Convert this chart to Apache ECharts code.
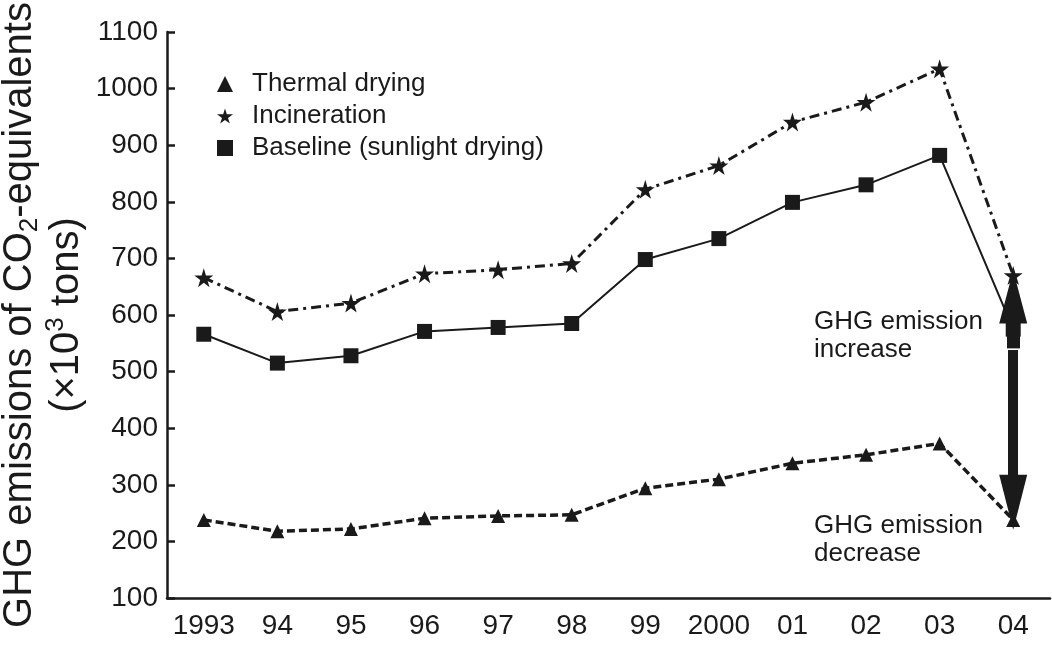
<!DOCTYPE html>
<html>
<head>
    <meta charset='utf-8'>
    <script src="https://cdn.jsdelivr.net/npm/echarts@6/dist/echarts.min.js"></script>
</head>
<body>
<style>
    html, body, #main {
        width: 100%;
        height: 100%;
        margin: 0;
        padding: 0;
        background: #fff;
    }
</style>
<div id="main"></div>
<script>

    var years = ['1993', '94', '95', '96', '97', '98', '99', '2000', '01', '02', '03', '04'];

    var thermal = [238, 218, 222, 241, 245, 247, 294, 310, 338, 353, 373, 238];
    var incineration = [666, 606, 621, 673, 680, 691, 822, 864, 941, 976, 1035, 670];
    var baseline = [566, 515, 528, 571, 578, 585, 698, 735, 799, 830, 882, 575];

    // the double arrow at 2004 (value ranges, head centre at the end)
    var arrowUp = [541, 632];
    var arrowDown = [538, 269];

    var yTicks = [100, 1100, 100];

    var ink = '#1a1a1a';
    var font = '"Liberation Sans", Arial, sans-serif';
    var star = 'path://M50,0 L61,35 L98,35 L68,57 L79,91 L50,70 L21,91 L32,57 L2,35 L39,35 Z';

    var chart = echarts.init(document.getElementById('main'));

    chart.setOption({
        animation: false,
        grid: {
            left: 167,
            right: 2,
            top: 32,
            bottom: 48,
            containLabel: false,
            outerBoundsMode: 'none'
        },
        legend: {
            orient: 'vertical',
            left: 212,
            top: 66,
            itemWidth: 16,
            itemHeight: 16,
            itemGap: 6,
            selectedMode: false,
            textStyle: {
                fontFamily: font,
                fontSize: 26,
                color: ink,
                padding: [0, 0, 0, 14]
            },
            data: [
                {name: 'Thermal drying', icon: 'triangle'},
                {name: 'Incineration', icon: star},
                {name: 'Baseline (sunlight drying)', icon: 'rect'}
            ]
        },
        xAxis: {
            type: 'category',
            data: years,
            boundaryGap: true,
            axisLine: {lineStyle: {color: ink, width: 2.5}},
            axisTick: {inside: true, length: 8, alignWithLabel: true, lineStyle: {color: ink, width: 2.5}},
            axisLabel: {
                margin: 14,
                interval: 0,
                fontFamily: font,
                fontSize: 28,
                color: ink
            },
            splitLine: {show: false}
        },
        yAxis: {
            type: 'value',
            min: yTicks[0],
            max: yTicks[1],
            interval: yTicks[2],
            name: 'GHG emissions of CO{sub|2}-equivalents\n(\u00d710{sup|3} tons)',
            nameLocation: 'middle',
            nameGap: 77,
            nameMoveOverlap: false,
            nameTextStyle: {
                fontFamily: font,
                fontSize: 40,
                lineHeight: 47,
                color: ink,
                rich: {
                    sub: {fontFamily: font, fontSize: 26, lineHeight: 26, verticalAlign: 'bottom', color: ink},
                    sup: {fontFamily: font, fontSize: 26, lineHeight: 26, verticalAlign: 'top', color: ink}
                }
            },
            axisLine: {show: true, lineStyle: {color: ink, width: 2.5}},
            axisTick: {show: true, inside: true, length: 8, lineStyle: {color: ink, width: 2.5}},
            axisLabel: {
                margin: 9,
                fontFamily: font,
                fontSize: 28,
                color: ink,
                formatter: function (v) {
                    return String(v);
                }
            },
            splitLine: {show: false}
        },
        graphic: [
            {
                type: 'text',
                left: 814,
                top: 308,
                style: {
                    text: 'GHG emission\nincrease',
                    font: '26px ' + font,
                    lineHeight: 28,
                    fill: ink
                }
            },
            {
                type: 'text',
                left: 814,
                top: 512,
                style: {
                    text: 'GHG emission\ndecrease',
                    font: '26px ' + font,
                    lineHeight: 28,
                    fill: ink
                }
            }
        ],
        series: [
            {
                name: 'Thermal drying',
                type: 'line',
                data: thermal,
                symbol: 'triangle',
                symbolSize: 14,
                itemStyle: {color: ink},
                lineStyle: {color: ink, width: 3.5, type: [8, 4]},
                z: 3
            },
            {
                name: 'Incineration',
                type: 'line',
                data: incineration,
                symbol: star,
                symbolSize: 19,
                itemStyle: {color: ink},
                lineStyle: {color: ink, width: 3, type: [10, 5, 3, 5]},
                z: 3
            },
            {
                name: 'Baseline (sunlight drying)',
                type: 'line',
                data: baseline,
                symbol: 'rect',
                symbolSize: 15,
                itemStyle: {color: ink},
                lineStyle: {color: ink, width: 2},
                z: 3,
                markLine: {
                    silent: true,
                    z: 10,
                    symbol: ['none', 'triangle'],
                    label: {show: false},
                    emphasis: {disabled: true},
                    data: [
                        [
                            {coord: ['04', arrowUp[0]], lineStyle: {color: ink, width: 13, type: 'solid'}, symbolSize: [28, 53]},
                            {coord: ['04', arrowUp[1]], symbolSize: [28, 53]}
                        ],
                        [
                            {coord: ['04', arrowDown[0]], lineStyle: {color: ink, width: 10, type: 'solid'}, symbolSize: [28, 55]},
                            {coord: ['04', arrowDown[1]], symbolSize: [28, 55]}
                        ]
                    ]
                }
            }
        ]
    });

</script>
</body>
</html>
